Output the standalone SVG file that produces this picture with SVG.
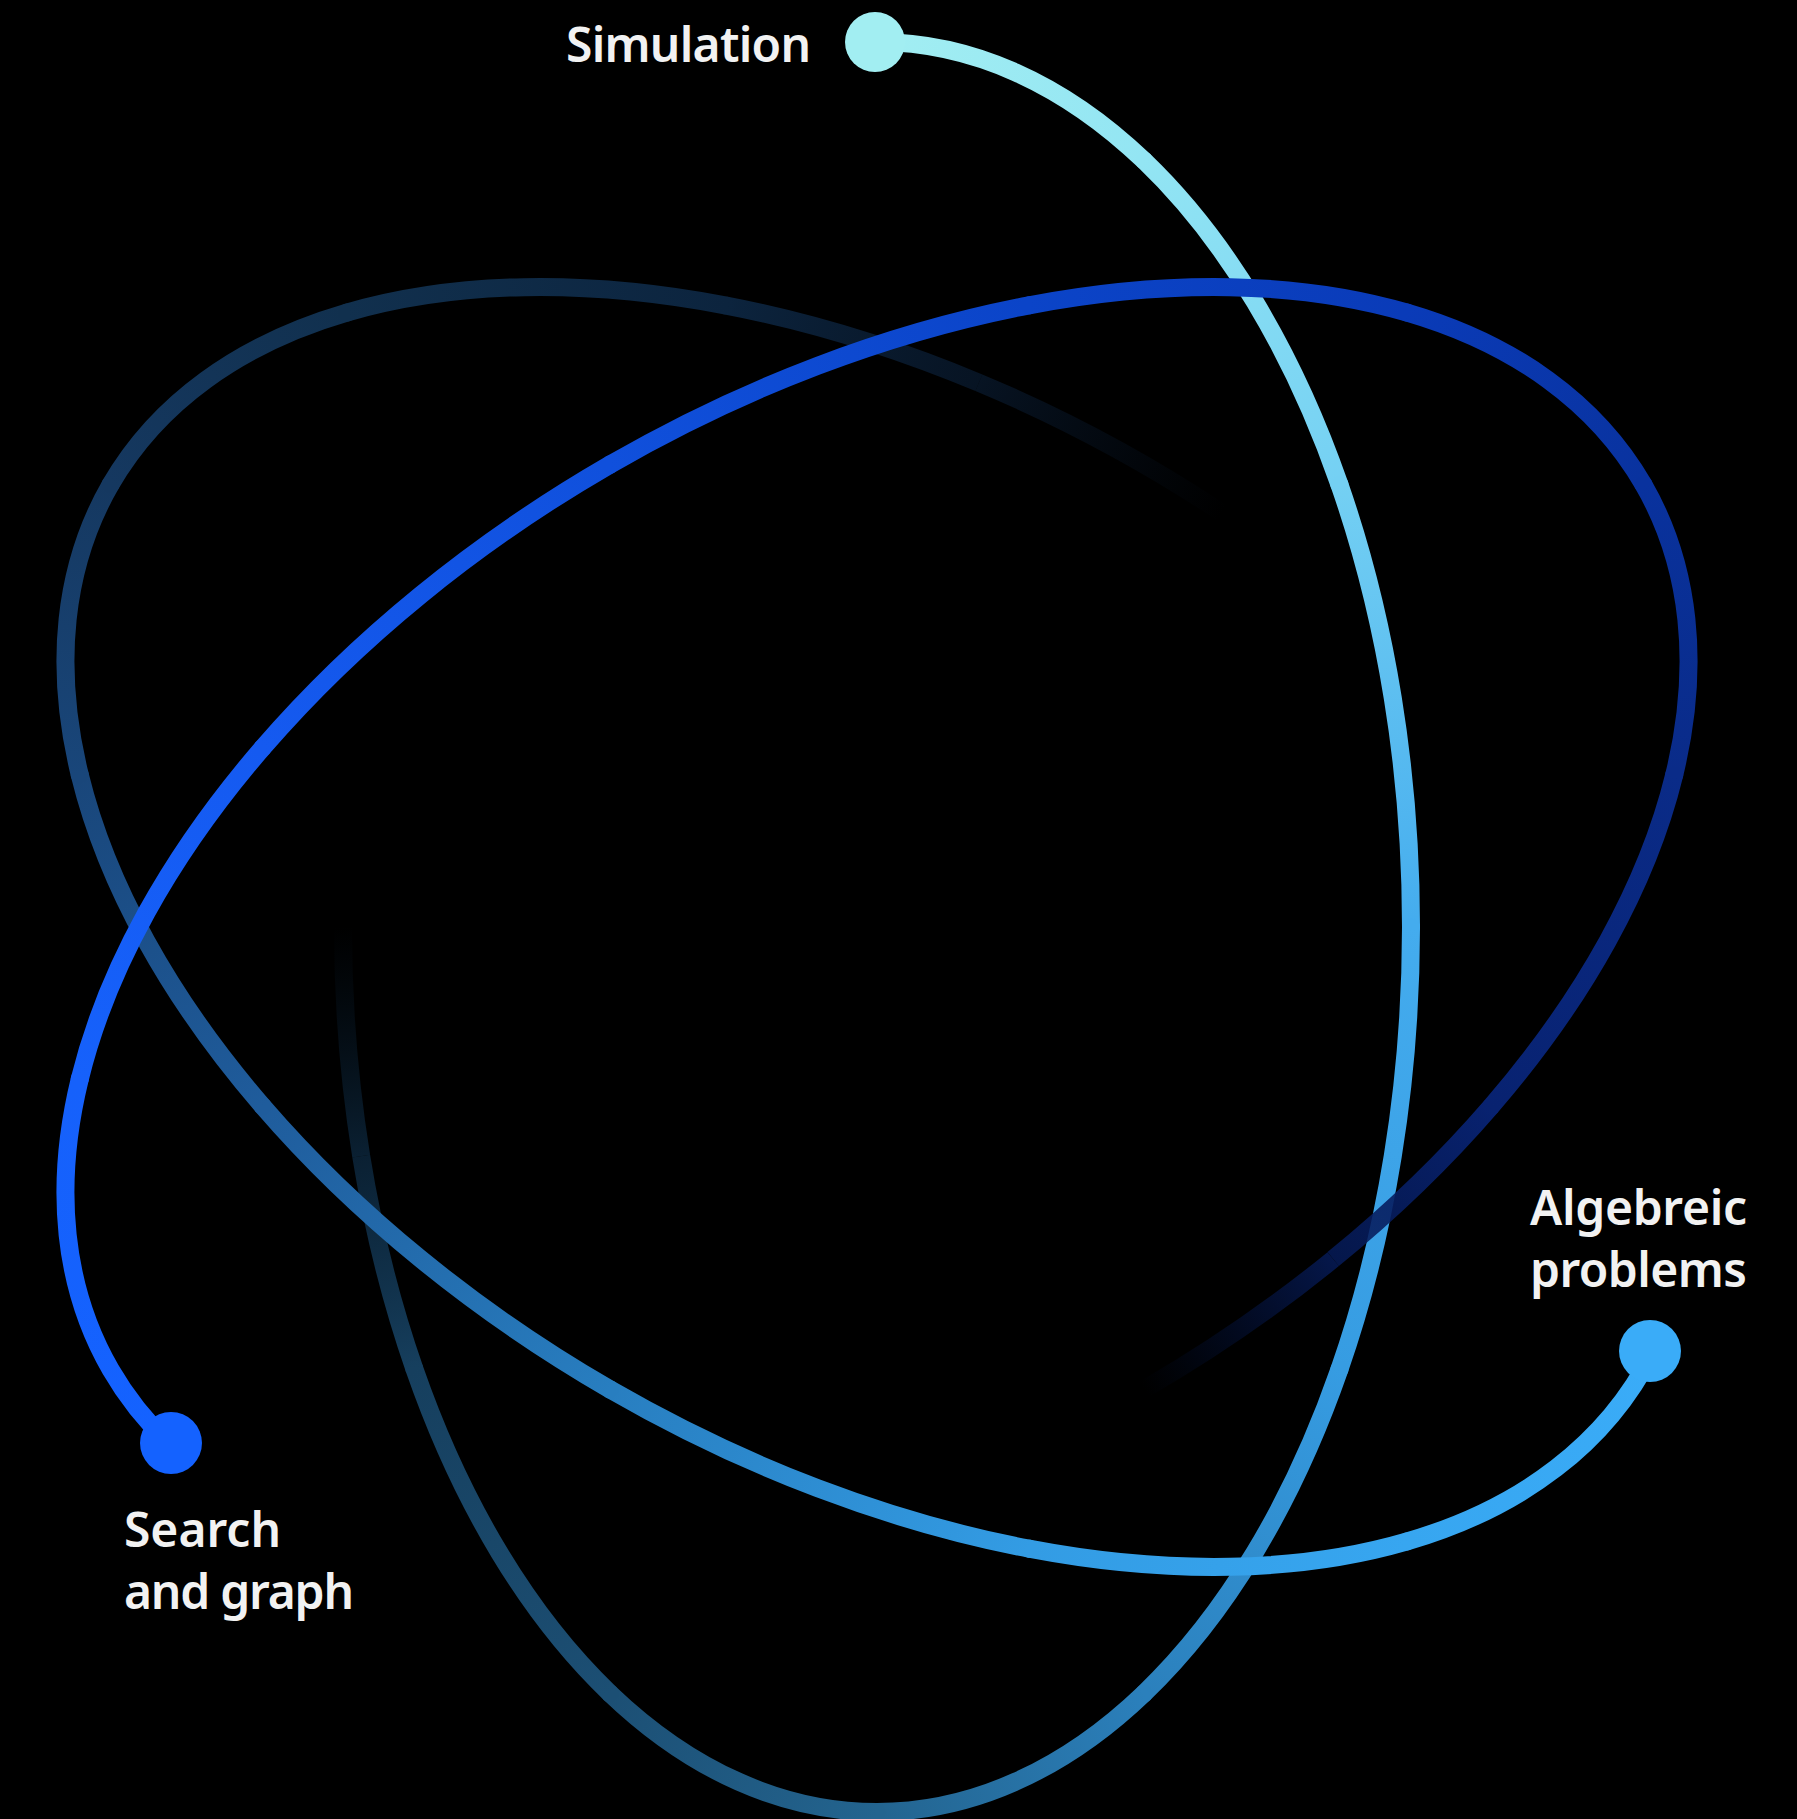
<svg xmlns="http://www.w3.org/2000/svg" width="1797" height="1819" viewBox="0 0 1797 1819">
<style>
.orbit path{fill:none;stroke-width:18;stroke-linecap:round}
.orbit path.f{stroke-linecap:butt}
.label{font-family:"Noto Sans","Open Sans","Liberation Sans",sans-serif;font-size:48px;font-weight:600;fill:#f2f2f2}
</style>
<defs>
<!-- orbit 1: Simulation (vertical ellipse) -->
<linearGradient id="a0" gradientUnits="userSpaceOnUse" x1="877" y1="42" x2="1144" y2="160.6"><stop offset="0" stop-color="#a2eef2"/><stop offset="1" stop-color="#93e5f3"/></linearGradient>
<linearGradient id="a1" gradientUnits="userSpaceOnUse" x1="1144" y1="160.6" x2="1339.4" y2="484.5"><stop offset="0" stop-color="#93e5f3"/><stop offset="1" stop-color="#74d0f3"/></linearGradient>
<linearGradient id="a2" gradientUnits="userSpaceOnUse" x1="1339.4" y1="484.5" x2="1411" y2="927"><stop offset="0" stop-color="#74d0f3"/><stop offset="1" stop-color="#44acee"/></linearGradient>
<linearGradient id="a3" gradientUnits="userSpaceOnUse" x1="1411" y1="927" x2="1339.4" y2="1369.5"><stop offset="0" stop-color="#44acee"/><stop offset="1" stop-color="#369ce2"/></linearGradient>
<linearGradient id="a4" gradientUnits="userSpaceOnUse" x1="1339.4" y1="1369.5" x2="1144" y2="1693.4"><stop offset="0" stop-color="#369ce2"/><stop offset="1" stop-color="#2b80bc"/></linearGradient>
<linearGradient id="a5" gradientUnits="userSpaceOnUse" x1="1144" y1="1693.4" x2="877" y2="1812"><stop offset="0" stop-color="#2b80bc"/><stop offset="1" stop-color="#23648f"/></linearGradient>
<linearGradient id="a6" gradientUnits="userSpaceOnUse" x1="877" y1="1812" x2="610" y2="1693.4"><stop offset="0" stop-color="#23648f"/><stop offset="1" stop-color="#1c4f74"/></linearGradient>
<linearGradient id="a7" gradientUnits="userSpaceOnUse" x1="610" y1="1693.4" x2="414.6" y2="1369.5"><stop offset="0" stop-color="#1c4f74"/><stop offset="1" stop-color="#163f5e"/></linearGradient>
<linearGradient id="a8" gradientUnits="userSpaceOnUse" x1="414.6" y1="1369.5" x2="361.2" y2="1156.1"><stop offset="0" stop-color="#163f5e"/><stop offset="1" stop-color="#0f2e48" stop-opacity="0.7"/></linearGradient>
<linearGradient id="a9" gradientUnits="userSpaceOnUse" x1="361.2" y1="1156.1" x2="343" y2="927"><stop offset="0" stop-color="#0f2e48" stop-opacity="0.7"/><stop offset="1" stop-color="#0a2033" stop-opacity="0"/></linearGradient>
<!-- orbit 2: Algebreic problems (+30deg ellipse) -->
<linearGradient id="b0" gradientUnits="userSpaceOnUse" x1="1652.2" y1="1353.1" x2="1407.2" y2="1541.4"><stop offset="0" stop-color="#3aacf8"/><stop offset="1" stop-color="#37a6f0"/></linearGradient>
<linearGradient id="b1" gradientUnits="userSpaceOnUse" x1="1407.2" y1="1541.4" x2="1029" y2="1548.7"><stop offset="0" stop-color="#37a6f0"/><stop offset="1" stop-color="#339ce4"/></linearGradient>
<linearGradient id="b2" gradientUnits="userSpaceOnUse" x1="1029" y1="1548.7" x2="610" y2="1389.4"><stop offset="0" stop-color="#339ce4"/><stop offset="1" stop-color="#287ec0"/></linearGradient>
<linearGradient id="b3" gradientUnits="userSpaceOnUse" x1="610" y1="1389.4" x2="262.6" y2="1106.1"><stop offset="0" stop-color="#287ec0"/><stop offset="1" stop-color="#1f5c9c"/></linearGradient>
<linearGradient id="b4" gradientUnits="userSpaceOnUse" x1="262.6" y1="1106.1" x2="79.8" y2="775"><stop offset="0" stop-color="#1f5c9c"/><stop offset="1" stop-color="#19467a"/></linearGradient>
<linearGradient id="b5" gradientUnits="userSpaceOnUse" x1="79.8" y1="775" x2="110.6" y2="484.5"><stop offset="0" stop-color="#19467a"/><stop offset="1" stop-color="#153860"/></linearGradient>
<linearGradient id="b6" gradientUnits="userSpaceOnUse" x1="110.6" y1="484.5" x2="346.8" y2="312.6"><stop offset="0" stop-color="#153860"/><stop offset="1" stop-color="#11304e"/></linearGradient>
<linearGradient id="b7" gradientUnits="userSpaceOnUse" x1="346.8" y1="312.6" x2="725" y2="305.3"><stop offset="0" stop-color="#11304e"/><stop offset="1" stop-color="#0c243e"/></linearGradient>
<linearGradient id="b8" gradientUnits="userSpaceOnUse" x1="725" y1="305.3" x2="978.9" y2="382.7"><stop offset="0" stop-color="#0c243e"/><stop offset="1" stop-color="#0a1c32" stop-opacity="0.7"/></linearGradient>
<linearGradient id="b9" gradientUnits="userSpaceOnUse" x1="978.9" y1="382.7" x2="1222.6" y2="513.3"><stop offset="0" stop-color="#0a1c32" stop-opacity="0.7"/><stop offset="1" stop-color="#081628" stop-opacity="0"/></linearGradient>
<!-- orbit 3: Search and graph (-30deg ellipse) -->
<linearGradient id="c0" gradientUnits="userSpaceOnUse" x1="168.7" y1="1443.1" x2="79.8" y2="1079"><stop offset="0" stop-color="#1462ff"/><stop offset="1" stop-color="#1661fb"/></linearGradient>
<linearGradient id="c1" gradientUnits="userSpaceOnUse" x1="79.8" y1="1079" x2="262.6" y2="747.9"><stop offset="0" stop-color="#1661fb"/><stop offset="1" stop-color="#155af0"/></linearGradient>
<linearGradient id="c2" gradientUnits="userSpaceOnUse" x1="262.6" y1="747.9" x2="610" y2="464.6"><stop offset="0" stop-color="#155af0"/><stop offset="1" stop-color="#1050dc"/></linearGradient>
<linearGradient id="c3" gradientUnits="userSpaceOnUse" x1="610" y1="464.6" x2="1029" y2="305.3"><stop offset="0" stop-color="#1050dc"/><stop offset="1" stop-color="#0b44c8"/></linearGradient>
<linearGradient id="c4" gradientUnits="userSpaceOnUse" x1="1029" y1="305.3" x2="1407.2" y2="312.6"><stop offset="0" stop-color="#0b44c8"/><stop offset="1" stop-color="#0a3bb8"/></linearGradient>
<linearGradient id="c5" gradientUnits="userSpaceOnUse" x1="1407.2" y1="312.6" x2="1643.4" y2="484.5"><stop offset="0" stop-color="#0a3bb8"/><stop offset="1" stop-color="#09329e"/></linearGradient>
<linearGradient id="c6" gradientUnits="userSpaceOnUse" x1="1643.4" y1="484.5" x2="1674.2" y2="775"><stop offset="0" stop-color="#09329e"/><stop offset="1" stop-color="#0a2b88"/></linearGradient>
<linearGradient id="c7" gradientUnits="userSpaceOnUse" x1="1674.2" y1="775" x2="1491.4" y2="1106.1"><stop offset="0" stop-color="#0a2b88"/><stop offset="1" stop-color="#082270"/></linearGradient>
<linearGradient id="c8" gradientUnits="userSpaceOnUse" x1="1491.4" y1="1106.1" x2="1333.2" y2="1259.1"><stop offset="0" stop-color="#082270"/><stop offset="1" stop-color="#061b58" stop-opacity="0.85"/></linearGradient>
<linearGradient id="c9" gradientUnits="userSpaceOnUse" x1="1333.2" y1="1259.1" x2="1144" y2="1389.4"><stop offset="0" stop-color="#061b58" stop-opacity="0.85"/><stop offset="1" stop-color="#041440" stop-opacity="0"/></linearGradient>
</defs>
<rect width="1797" height="1819" fill="#000"/>
<g id="connectors">
<g id="orbit-simulation" class="orbit">
<path stroke="url(#a0)" d="M877,42 A534,885 0 0 1 1144,160.6"/>
<path stroke="url(#a1)" d="M1144,160.6 A534,885 0 0 1 1339.4,484.5"/>
<path stroke="url(#a2)" d="M1339.4,484.5 A534,885 0 0 1 1411,927"/>
<path stroke="url(#a3)" d="M1411,927 A534,885 0 0 1 1339.4,1369.5"/>
<path stroke="url(#a4)" d="M1339.4,1369.5 A534,885 0 0 1 1144,1693.4"/>
<path stroke="url(#a5)" d="M1144,1693.4 A534,885 0 0 1 877,1812"/>
<path stroke="url(#a6)" d="M877,1812 A534,885 0 0 1 610,1693.4"/>
<path stroke="url(#a7)" d="M610,1693.4 A534,885 0 0 1 414.6,1369.5"/>
<path class="f" stroke="url(#a8)" d="M414.6,1369.5 A534,885 0 0 1 361.2,1156.1"/>
<path class="f" stroke="url(#a9)" d="M361.2,1156.1 A534,885 0 0 1 343,927"/>
</g>
<g id="orbit-algebraic" class="orbit">
<path stroke="url(#b0)" d="M1652.2,1353.1 A885,534 30 0 1 1407.2,1541.4"/>
<path stroke="url(#b1)" d="M1407.2,1541.4 A885,534 30 0 1 1029,1548.7"/>
<path stroke="url(#b2)" d="M1029,1548.7 A885,534 30 0 1 610,1389.4"/>
<path stroke="url(#b3)" d="M610,1389.4 A885,534 30 0 1 262.6,1106.1"/>
<path stroke="url(#b4)" d="M262.6,1106.1 A885,534 30 0 1 79.8,775"/>
<path stroke="url(#b5)" d="M79.8,775 A885,534 30 0 1 110.6,484.5"/>
<path stroke="url(#b6)" d="M110.6,484.5 A885,534 30 0 1 346.8,312.6"/>
<path stroke="url(#b7)" d="M346.8,312.6 A885,534 30 0 1 725,305.3"/>
<path class="f" stroke="url(#b8)" d="M725,305.3 A885,534 30 0 1 978.9,382.7"/>
<path class="f" stroke="url(#b9)" d="M978.9,382.7 A885,534 30 0 1 1222.6,513.3"/>
</g>
<g id="orbit-search" class="orbit">
<path stroke="url(#c0)" d="M168.7,1443.1 A885,534 -30 0 1 110.6,1369.5 A885,534 -30 0 1 79.8,1079"/>
<path stroke="url(#c1)" d="M79.8,1079 A885,534 -30 0 1 262.6,747.9"/>
<path stroke="url(#c2)" d="M262.6,747.9 A885,534 -30 0 1 610,464.6"/>
<path stroke="url(#c3)" d="M610,464.6 A885,534 -30 0 1 1029,305.3"/>
<path stroke="url(#c4)" d="M1029,305.3 A885,534 -30 0 1 1407.2,312.6"/>
<path stroke="url(#c5)" d="M1407.2,312.6 A885,534 -30 0 1 1643.4,484.5"/>
<path stroke="url(#c6)" d="M1643.4,484.5 A885,534 -30 0 1 1674.2,775"/>
<path stroke="url(#c7)" d="M1674.2,775 A885,534 -30 0 1 1491.4,1106.1"/>
<path class="f" stroke="url(#c8)" d="M1491.4,1106.1 A885,534 -30 0 1 1333.2,1259.1"/>
<path class="f" stroke="url(#c9)" d="M1333.2,1259.1 A885,534 -30 0 1 1144,1389.4"/>
</g>
</g>
<g id="node-simulation">
<circle cx="875" cy="42" r="30" fill="#a2eef2"/>
<text class="label" x="566" y="62" textLength="245">Simulation</text>
</g>
<g id="node-algebraic">
<circle cx="1650" cy="1351" r="31" fill="#3aacf8"/>
<text class="label" x="1530" y="1225" textLength="217">Algebreic</text>
<text class="label" x="1530" y="1287" textLength="217">problems</text>
</g>
<g id="node-search">
<circle cx="171" cy="1443" r="31" fill="#1462ff"/>
<text class="label" x="124" y="1547" textLength="157">Search</text>
<text class="label" x="124" y="1609" textLength="230">and graph</text>
</g>
</svg>
